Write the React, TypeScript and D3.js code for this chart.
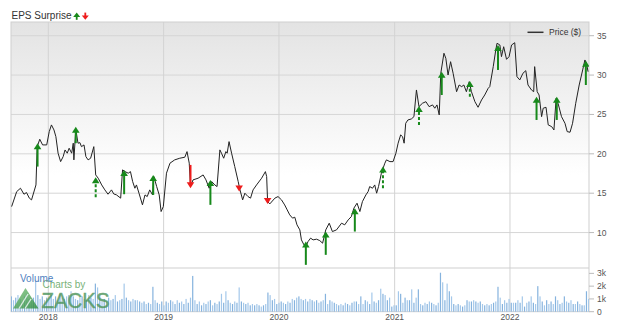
import React from "react";
import * as d3 from "d3";

const priceDates = [
  "2017-09-07","2017-09-23","2017-10-05","2017-10-16","2017-10-24","2017-11-02","2017-11-09","2017-11-23","2017-11-27","2017-12-05",
  "2017-12-14","2017-12-27","2018-01-04","2018-01-11","2018-01-19","2018-01-25","2018-02-01","2018-02-09","2018-02-17","2018-02-23",
  "2018-03-02","2018-03-08","2018-03-16","2018-03-21","2018-03-23","2018-03-29","2018-04-05","2018-04-11","2018-04-16","2018-04-24",
  "2018-04-30","2018-05-07","2018-05-15","2018-05-25","2018-05-31","2018-06-08","2018-06-19","2018-06-29","2018-07-09","2018-07-20",
  "2018-07-27","2018-08-05","2018-08-18","2018-08-24","2018-09-01","2018-09-11","2018-09-18","2018-09-25","2018-10-02","2018-10-07",
  "2018-10-15","2018-10-26","2018-11-03","2018-11-10","2018-11-18","2018-11-27","2018-12-01","2018-12-10","2018-12-18","2018-12-24",
  "2018-12-31","2019-01-10","2019-01-21","2019-02-05","2019-02-21","2019-03-09","2019-03-16","2019-03-23","2019-03-27","2019-04-04",
  "2019-04-20","2019-05-06","2019-05-15","2019-05-25","2019-06-02","2019-06-12","2019-06-19","2019-06-28","2019-07-03","2019-07-10",
  "2019-07-17","2019-07-21","2019-07-27","2019-08-04","2019-08-14","2019-08-25","2019-08-30","2019-09-08","2019-09-15","2019-09-25",
  "2019-10-03","2019-10-11","2019-10-22","2019-11-07","2019-11-19","2019-11-23","2019-11-26","2019-12-03","2019-12-19","2019-12-29",
  "2020-01-09","2020-01-19","2020-01-27","2020-02-04","2020-02-13","2020-02-20","2020-02-27","2020-03-07","2020-03-12","2020-03-20",
  "2020-03-26","2020-04-02","2020-04-10","2020-04-18","2020-04-29","2020-05-09","2020-05-18","2020-05-28","2020-06-08","2020-06-18",
  "2020-07-01","2020-07-17","2020-07-27","2020-08-07","2020-08-17","2020-08-25","2020-09-04","2020-09-13","2020-09-21","2020-10-02",
  "2020-10-09","2020-10-14","2020-10-23","2020-10-30","2020-11-05","2020-11-11","2020-11-20","2020-12-01","2020-12-06","2020-12-17",
  "2020-12-27","2021-01-05","2021-01-12","2021-01-20","2021-01-26","2021-01-31","2021-02-05","2021-02-12","2021-02-23","2021-03-03",
  "2021-03-11","2021-03-19","2021-03-30","2021-04-10","2021-04-20","2021-05-01","2021-05-08","2021-05-15","2021-05-22","2021-05-27",
  "2021-06-06","2021-06-12","2021-06-19","2021-06-27","2021-07-05","2021-07-16","2021-07-24","2021-08-01","2021-08-08","2021-08-16",
  "2021-08-25","2021-09-01","2021-09-12","2021-09-22","2021-10-03","2021-10-13","2021-10-24","2021-10-29","2021-11-09","2021-11-17",
  "2021-11-21","2021-11-30","2021-12-05","2021-12-12","2021-12-21","2021-12-29","2022-01-06","2022-01-16","2022-01-23","2022-02-01",
  "2022-02-11","2022-02-20","2022-02-27","2022-03-10","2022-03-17","2022-03-20","2022-03-28","2022-04-03","2022-04-11","2022-04-16",
  "2022-04-25","2022-05-02","2022-05-13","2022-05-20","2022-05-27","2022-06-02","2022-06-13","2022-06-24","2022-07-01","2022-07-10",
  "2022-07-18","2022-07-28","2022-08-08","2022-08-19","2022-08-26","2022-08-31","2022-09-05"
];

const priceValues = [
  13.30,15.20,15.63,14.87,15.08,14.37,14.15,16.05,20.91,21.85,
  21.13,21.13,22.82,23.67,23.03,22.18,20.08,19.01,19.64,20.49,
  20.08,20.71,20.08,21.35,19.23,23.12,21.35,21.42,20.91,21.13,
  19.64,19.23,19.44,20.91,17.32,16.90,16.05,15.42,14.87,15.42,
  14.91,14.78,14.37,17.96,17.74,17.54,17.74,16.47,15.63,16.05,
  15.00,13.52,14.78,14.57,15.42,14.78,17.11,15.84,14.78,12.67,
  13.30,17.54,18.81,19.23,19.44,19.57,20.28,18.81,15.84,16.69,
  16.90,17.32,16.69,15.63,16.47,16.05,15.84,20.50,20.08,19.44,
  20.28,20.08,21.55,20.08,18.38,16.47,15.51,14.15,15.00,14.57,
  14.37,15.42,16.05,16.90,17.74,17.11,13.93,13.64,14.37,14.57,
  14.15,13.51,12.88,12.25,11.83,11.95,10.98,10.34,9.07,8.44,
  8.22,8.86,9.29,9.07,9.16,8.98,8.65,10.34,11.19,10.13,
  10.34,11.19,10.98,11.61,12.03,13.10,13.73,12.67,13.93,14.78,
  15.20,15.84,15.63,16.05,15.00,15.84,17.54,18.81,19.23,19.01,
  19.01,20.08,21.35,22.40,22.18,21.35,23.88,24.30,24.43,24.72,
  28.11,25.99,26.42,26.62,25.99,26.21,25.79,26.21,24.94,30.23,
  32.77,32.13,30.01,31.70,30.23,27.89,28.74,28.53,28.74,27.89,
  29.16,27.89,26.62,25.91,26.84,27.47,28.32,28.53,31.07,33.19,
  34.04,33.82,32.34,33.60,32.00,32.34,33.82,34.11,29.80,29.38,
  30.23,30.56,28.74,28.11,27.89,31.07,27.89,27.47,24.72,25.79,
  25.91,23.67,23.45,23.03,27.06,26.42,24.72,23.88,22.82,22.74,
  23.88,26.42,28.74,30.65,31.92,31.50,30.43
];

const epsDates = [
  "2017-11-28","2018-03-29","2018-05-31","2018-08-29","2018-11-29","2019-03-27","2019-05-29","2019-08-28","2019-11-26","2020-03-26",
  "2020-05-28","2020-08-28","2020-11-25","2021-03-19","2021-05-30","2021-08-27","2021-11-24","2022-03-26","2022-05-29","2022-08-29"
];
const epsFrom = [18.38,21.35,14.49,14.87,14.78,18.59,13.52,15.93,14.37,5.90,7.17,10.13,15.63,23.67,27.47,27.26,30.65,24.30,24.30,28.74];
const epsTo = [21.35,23.45,17.03,17.96,17.32,15.63,16.69,15.20,13.64,8.86,10.13,13.10,18.38,26.08,30.43,29.25,33.82,27.26,27.26,31.83];
const epsResult = ["beat","beat","beat","beat","beat","miss","beat","miss","miss","beat","beat","beat","beat","beat","beat","beat","beat","beat","beat","beat"];
const epsStroke = ["solid","solid","dashed","solid","solid","solid","solid","solid","solid","solid","solid","solid","dashed","dashed","solid","dashed","solid","solid","solid","solid"];

const volumeStart = "2017-09-06";
const volumeK = [
  1.2,0.9,1.1,1.3,1.0,0.8,1.2,1.4,1.0,0.9,1.1,2.5,1.3,1.0,1.2,0.9,1.1,
  1.1,1.3,1.0,1.2,0.9,1.4,1.1,1.0,1.2,1.3,1.6,1.2,1.0,0.9,1.1,1.2,1.0,0.9,1.3,1.1,1.0,2.2,
  1.9,1.2,0.9,1.0,0.8,1.1,0.9,1.0,1.3,0.8,0.9,1.0,2.2,1.1,0.9,0.8,1.0,0.9,0.9,0.8,0.7,0.8,0.6,0.7,0.6,1.95,0.9,0.7,0.6,0.8,0.5,
  0.8,0.7,0.9,0.8,0.6,0.9,0.7,0.8,0.6,1.0,0.7,1.1,2.8,0.9,0.6,0.8,0.5,0.7,0.6,0.8,0.9,0.5,0.7,0.6,0.8,1.4,0.7,1.6,0.9,0.7,0.6,0.8,0.7,1.9,0.8,0.7,0.6,0.7,0.5,0.6,0.5,0.6,0.5,0.4,0.5,0.6,1.5,1.3,0.9,1.0,0.6,0.7,
  0.8,0.7,0.6,0.8,0.7,1.0,0.9,1.1,1.2,1.0,0.9,1.0,0.8,1.0,0.9,0.8,0.9,0.7,0.8,0.9,1.4,0.6,0.9,0.8,0.7,0.6,0.5,0.6,0.5,0.7,0.6,0.5,0.7,0.8,0.8,0.6,1.2,0.6,0.9,0.8,0.6,1.5,0.8,0.7,0.9,1.8,1.4,1.3,0.9,1.1,0.4,0.5,
  0.5,1.6,1.4,0.7,1.1,0.9,0.9,1.75,0.7,1.1,1.75,0.6,0.5,0.7,0.6,0.8,0.7,0.6,0.5,0.7,3.05,2.3,0.9,2.2,1.6,1.2,0.6,0.5,0.6,0.5,0.4,0.5,0.9,0.8,0.8,0.9,0.8,0.7,0.8,0.6,0.5,0.6,0.5,0.6,0.7,0.8,1.95,1.1,0.6,0.9,0.7,1.0,
  0.7,0.7,0.7,0.9,0.7,1.2,0.4,0.7,0.8,1.2,0.7,0.6,2.0,1.2,0.8,0.5,0.9,0.6,0.8,0.6,1.2,0.9,0.6,0.7,1.2,0.8,0.7,0.9,0.6,0.6,0.8,0.6,0.5,0.5,1.6,1.0
];

const priceTicks = [10, 15, 20, 25, 30, 35];
const volumeTicks = [0, 1, 2, 3];
const volumeTickLabels = ["0", "1k", "2k", "3k"];
const yearTicks = ["2018-01-01", "2019-01-01", "2020-01-01", "2021-01-01", "2022-01-01"];
const yearLabels = ["2018", "2019", "2020", "2021", "2022"];

const FONT = "'Liberation Sans', Arial, sans-serif";
const GREEN = "#17891b";
const RED = "#ee1c1c";

export default function App() {
  const parse = d3.timeParse("%Y-%m-%d");
  const L = 11, R = 589, T = 22, PB = 268, VB = 311.7;
  const x = d3.scaleTime().domain([parse("2017-09-05")!, parse("2022-09-08")!]).range([L, R]);
  const y = d3.scaleLinear().domain([5.5, 36.74]).range([PB, T]);
  const yv = d3.scaleLinear().domain([0, 3.42]).range([VB, PB]);

  const pricePts = priceDates.map((d, i) => [parse(d)!, priceValues[i]] as [Date, number]);
  const line = d3.line<[Date, number]>().x(d => x(d[0])).y(d => y(d[1]));
  const vStart = parse(volumeStart)!;

  const arrow = (i: number) => {
    const cx = x(parse(epsDates[i])!);
    const y0 = y(epsFrom[i]);
    const y1 = y(epsTo[i]);
    const color = epsResult[i] === "beat" ? GREEN : RED;
    const up = y1 < y0;
    const head = 6;
    const hw = 3.8;
    const stemEnd = up ? y1 + head - 1 : y1 - head + 1;
    const showStem = Math.abs(y0 - y1) > head;
    return (
      <g key={"eps" + i}>
        {showStem && (
          <line x1={cx} x2={cx} y1={y0} y2={stemEnd} stroke={color} strokeWidth={2}
            strokeDasharray={epsStroke[i] === "dashed" ? "3,2" : undefined} />
        )}
        <polygon
          points={up
            ? `${cx},${y1} ${cx - hw},${y1 + head} ${cx + hw},${y1 + head}`
            : `${cx},${y1} ${cx - hw},${y1 - head} ${cx + hw},${y1 - head}`}
          fill={color} />
      </g>
    );
  };

  return (
    <svg width={620} height={328} style={{ position: "absolute", left: 0, top: 0, background: "#fff" }} fontFamily={FONT}>
      <defs>
        <linearGradient id="bg" x1="0" y1={T} x2="0" y2={175} gradientUnits="userSpaceOnUse">
          <stop offset="0" stopColor="#e3e3e3" />
          <stop offset="1" stopColor="#ffffff" />
        </linearGradient>
        <linearGradient id="logo" x1="0" y1="0" x2="1" y2="1">
          <stop offset="0" stopColor="#7cc47c" />
          <stop offset="1" stopColor="#2e8b3e" />
        </linearGradient>
        <clipPath id="plotclip"><rect x={L} y={T} width={R - L} height={PB - T} /></clipPath>
        <clipPath id="volclip"><rect x={L} y={PB} width={R - L} height={VB - PB + 1} /></clipPath>
      </defs>

      <rect x={L} y={T} width={R - L} height={PB - T} fill="url(#bg)" />

      {priceTicks.map(t => (
        <line key={"hg" + t} x1={L} x2={R} y1={y(t)} y2={y(t)} stroke="#d6d6d6" strokeWidth={1} />
      ))}
      {yearTicks.map(t => (
        <line key={"vg" + t} x1={x(parse(t)!)} x2={x(parse(t)!)} y1={T} y2={VB} stroke="#d3d3d3" strokeWidth={1} />
      ))}

      <rect x={L} y={T} width={R - L} height={VB - T} fill="none" stroke="#cfcfcf" strokeWidth={1} />
      <line x1={L} x2={R} y1={PB} y2={PB} stroke="#cfcfcf" strokeWidth={1} />

      <g clipPath="url(#volclip)">
        {volumeK.map((v, i) => {
          const bx = x(d3.timeDay.offset(vStart, i * 7));
          return (
            <rect key={"v" + i} x={bx - 0.6} y={yv(v)} width={1.2} height={VB - yv(v)}
              fill={i % 2 === 0 ? "#86b3de" : "#a4c8ea"} />
          );
        })}
      </g>

      <g opacity={0.82}>
        <polygon points="13,308.5 38.5,308.5 25.5,288" fill="url(#logo)" />
        <line x1="19" y1="308.5" x2="28" y2="294" stroke="#ffffff" strokeWidth={1.4} opacity={0.8} />
        <line x1="25" y1="308.5" x2="31" y2="299" stroke="#ffffff" strokeWidth={1.4} opacity={0.8} />
        <text x={42.5} y={287.5} fontSize={10} fill="#5aa25a">Charts by</text>
        <text x={41.5} y={308.3} fontSize={22} fill="#4c945a" stroke="#4c945a" strokeWidth={0.4} textLength={68} lengthAdjust="spacingAndGlyphs">ZACKS</text>
      </g>
      <text x={20} y={281.5} fontSize={10} fill="#4f7fbf">Volume</text>

      <g clipPath="url(#plotclip)">
        <path d={line(pricePts)!} fill="none" stroke="#222" strokeWidth={1} />
        {epsDates.map((_, i) => arrow(i))}
      </g>

      {priceTicks.map(t => (
        <g key={"pt" + t}>
          <line x1={R} x2={R + 5} y1={y(t)} y2={y(t)} stroke="#bbb" />
          <text x={R + 8} y={y(t)} dy="0.35em" fontSize={8.5} fill="#555">{t}</text>
        </g>
      ))}
      {volumeTicks.map((t, i) => (
        <g key={"vt" + t}>
          <line x1={R} x2={R + 5} y1={yv(t)} y2={yv(t)} stroke="#bbb" />
          <text x={R + 8} y={yv(t)} dy="0.35em" fontSize={8.5} fill="#555">{volumeTickLabels[i]}</text>
        </g>
      ))}
      {yearTicks.map((t, i) => (
        <text key={"yl" + t} x={x(parse(t)!)} y={320} textAnchor="middle" fontSize={8.5} fill="#555">{yearLabels[i]}</text>
      ))}

      <text x={11.5} y={18.7} fontSize={10} fill="#333">EPS Surprise</text>
      <g>
        <line x1={76.7} x2={76.7} y1={19.8} y2={16} stroke={GREEN} strokeWidth={1.8} />
        <polygon points="76.7,12.6 73.2,17 80.2,17" fill={GREEN} />
        <line x1={85.3} x2={85.3} y1={12.6} y2={16.4} stroke={RED} strokeWidth={1.8} />
        <polygon points="85.3,19.8 81.8,15.4 88.8,15.4" fill={RED} />
      </g>

      <line x1={527.5} x2={543.5} y1={32.3} y2={32.3} stroke="#333" strokeWidth={1.5} />
      <text x={549} y={35.3} fontSize={8.5} fill="#333">Price ($)</text>
    </svg>
  );
}
